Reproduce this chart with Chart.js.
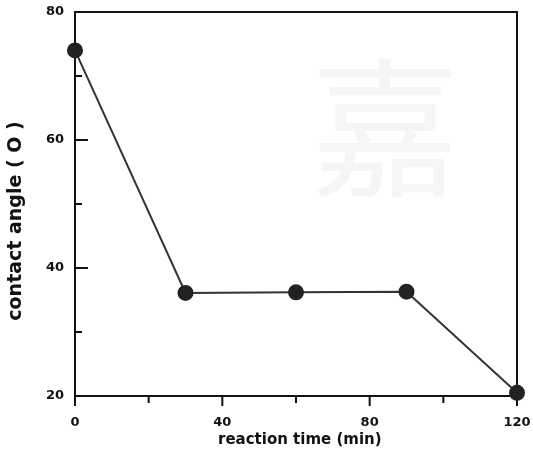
<!DOCTYPE html>
<html>
<head>
<meta charset="utf-8">
<script src="https://cdn.jsdelivr.net/npm/chart.js@4"></script>
<style>
  html, body { margin: 0; padding: 0; background: #fff; }
  #wrap { width: 533px; height: 453px; position: relative; }
</style>
</head>
<body>
<div id="wrap"><canvas id="c" width="533" height="453"></canvas></div>
<script>
// Reaction time (min) and measured contact angle
const reactionTime = [0, 30, 60, 90, 120];
const contactAngle = [74, 36.1, 36.2, 36.3, 20.5];
const xTickLabels = [0, 40, 80, 120];
const yTickLabels = [20, 40, 60, 80];
const xTitle = 'reaction time (min)';
const yTitle = 'contact angle ( O )';

const FONT = '"DejaVu Sans", "Liberation Sans", Arial, sans-serif';

// Frame, tick marks and axis titles: y ticks point into the plot, x ticks point down
const framePlugin = {
  id: 'frame',
  beforeDatasetsDraw(chart) {
    const { ctx, chartArea: a, scales } = chart;
    ctx.save();
    // faint background character
    ctx.fillStyle = 'rgba(0,0,0,0.04)';
    ctx.font = '150px "Noto Sans CJK SC"';
    ctx.textAlign = 'center';
    ctx.textBaseline = 'middle';
    ctx.fillText('嘉', 385, 128);

    ctx.strokeStyle = '#111';
    ctx.lineWidth = 2;
    ctx.strokeRect(a.left, a.top, a.right - a.left, a.bottom - a.top);

    const ys = scales.y;
    ys.ticks.forEach(t => {
      const py = ys.getPixelForValue(t.value);
      const major = yTickLabels.includes(t.value);
      ctx.beginPath();
      ctx.moveTo(a.left, py);
      ctx.lineTo(a.left + (major ? 13 : 7), py);
      ctx.stroke();
    });
    const xs = scales.x;
    xs.ticks.forEach(t => {
      const px = xs.getPixelForValue(t.value);
      const major = xTickLabels.includes(t.value);
      ctx.beginPath();
      ctx.moveTo(px, a.bottom);
      ctx.lineTo(px, a.bottom + (major ? 10 : 7));
      ctx.stroke();
    });

    // axis titles
    ctx.fillStyle = '#111';
    ctx.font = 'bold 15px ' + FONT;
    ctx.textAlign = 'left';
    ctx.textBaseline = 'middle';
    ctx.fillText(xTitle, 218, 440);

    ctx.translate(16, 221);
    ctx.rotate(-Math.PI / 2);
    ctx.textAlign = 'center';
    ctx.font = 'bold 19px ' + FONT;
    ctx.fillText(yTitle, 0, 0);
    ctx.restore();
  }
};

new Chart(document.getElementById('c'), {
  type: 'scatter',
  data: {
    datasets: [{
      data: reactionTime.map((t, i) => ({ x: t, y: contactAngle[i] })),
      showLine: true,
      borderColor: '#333',
      borderWidth: 2,
      backgroundColor: '#222',
      pointBackgroundColor: '#222',
      pointBorderColor: '#222',
      pointRadius: 7,
      pointHoverRadius: 7,
      clip: false
    }]
  },
  options: {
    responsive: false,
    animation: false,
    events: [],
    layout: { padding: { top: 12, right: 16, left: 0, bottom: 0 } },
    plugins: { legend: { display: false }, tooltip: { enabled: false } },
    scales: {
      x: {
        type: 'linear',
        min: 0, max: 120,
        afterFit(s) { s.height = 57; s.paddingLeft = 0; s.paddingRight = 0; },
        border: { display: false },
        grid: { display: false, drawTicks: false },
        ticks: {
          stepSize: 20,
          padding: 19,
          maxRotation: 0,
          color: '#111',
          font: { family: FONT, size: 13, weight: 'bold' },
          callback: v => xTickLabels.includes(v) ? String(v) : ''
        }
      },
      y: {
        type: 'linear',
        min: 20, max: 80,
        afterFit(s) { s.width = 75; s.paddingTop = 0; s.paddingBottom = 0; },
        border: { display: false },
        grid: { display: false, drawTicks: false },
        ticks: {
          stepSize: 10,
          padding: 11,
          color: '#111',
          font: { family: FONT, size: 13, weight: 'bold' },
          callback: v => yTickLabels.includes(v) ? String(v) : ''
        }
      }
    }
  },
  plugins: [framePlugin]
});
</script>
</body>
</html>
